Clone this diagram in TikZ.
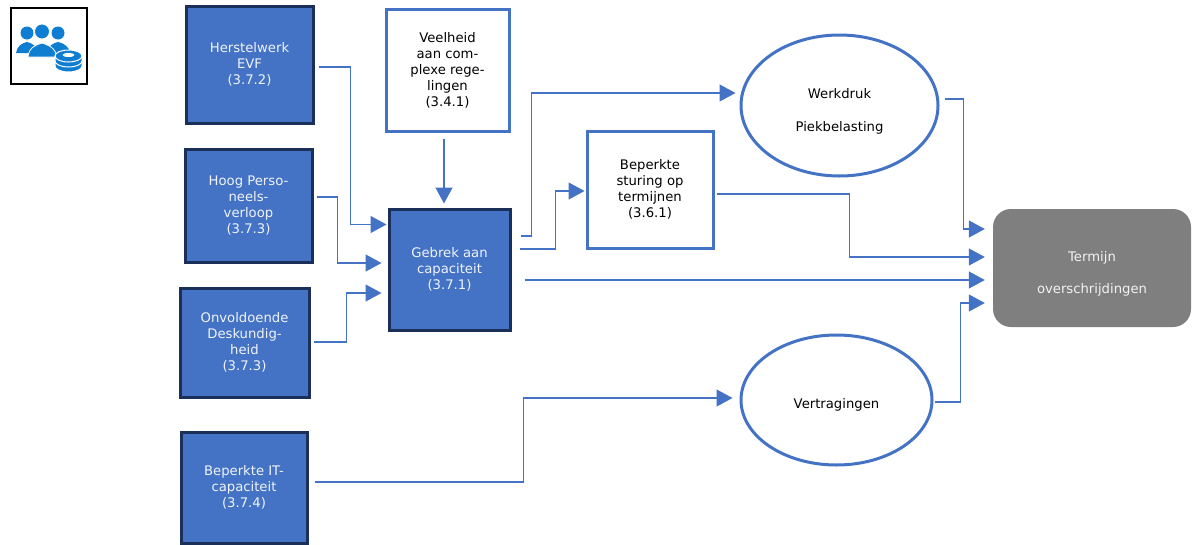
\documentclass[tikz,border=0pt]{standalone}
\usepackage{fontspec}
\setmainfont{DejaVu Sans}
\usetikzlibrary{arrows.meta,shapes.geometric}
\definecolor{kantblauw}{HTML}{4472C4}
\definecolor{donkerblauw}{HTML}{1A3058}
\definecolor{grijsvak}{HTML}{7F7F7F}
\definecolor{iconblauw}{HTML}{0F7DD2}
\tikzset{
	tekst/.style={align=center, inner sep=0pt, font=\fontsize{13.2}{16}\selectfont},
	oorzaak/.style={tekst, draw=donkerblauw, line width=3pt, fill=kantblauw, text=white!92!kantblauw},
	wit/.style={tekst, draw=kantblauw, line width=3pt, fill=white},
	gevolg/.style={tekst, ellipse, draw=kantblauw, line width=3pt, fill=white},
	pijl/.style={draw=kantblauw, line width=1.3pt, -{Triangle[length=16pt,width=17pt,fill=kantblauw]}},
	persoon/.style={fill=iconblauw, draw=none},
	munt/.style={fill=iconblauw, draw=white, line width=1pt}
}
\begin{document}
\begin{tikzpicture}[x=1pt,y=-1pt]
	\useasboundingbox (0,0) rectangle (1194,544);
	\node[draw=black, line width=2pt, minimum width=76pt, minimum height=76pt] (icoon) at (48.5,46) {}; %icoon
	\fill[persoon] (27,33) circle (6.5pt);
	\fill[persoon] (16,53) .. controls (17,46) and (22,43) .. (27,42) .. controls (32,43) and (37,46) .. (38,53) -- cycle;
	\fill[persoon] (58,33) circle (6.5pt);
	\fill[persoon] (47,53) .. controls (48,46) and (53,43) .. (58,42) .. controls (63,43) and (69,46) .. (70,53) -- cycle;
	\draw[white, line width=0.8pt, fill=iconblauw] (42,31.5) circle (7.5pt);
	\draw[white, line width=0.8pt, fill=iconblauw] (28,57) .. controls (29,47) and (36,45) .. (42,43) .. controls (48,45) and (55,47) .. (57,57) -- cycle;
	\draw[munt] (55,66) arc (180:360:13.5pt and 6pt) -- (82,60) -- (55,60) -- cycle;
	\draw[munt] (55,61) arc (180:360:13.5pt and 6pt) -- (82,56) -- (55,56) -- cycle;
	\draw[munt] (68.5,56) ellipse (13.5pt and 6pt);
	\fill[white] (68.5,55) ellipse (6pt and 2pt);

	\node[oorzaak, minimum width=127pt, minimum height=117pt] (herstelwerk) at (249.5,64.5) {Herstelwerk\\EVF\\(3.7.2)};
	\node[oorzaak, minimum width=127pt, minimum height=113pt] (verloop) at (248.5,205.5) {Hoog Perso-\\neels-\\verloop\\(3.7.3)};
	\node[oorzaak, minimum width=129pt, minimum height=109pt] (deskundig) at (244.5,342.5) {Onvoldoende\\Deskundig-\\heid\\(3.7.3)};
	\node[oorzaak, minimum width=126pt, minimum height=111pt] (it) at (244,487.5) {Beperkte IT-\\capaciteit\\(3.7.4)};
	\node[oorzaak, minimum width=121pt, minimum height=121pt] (capaciteit) at (449.5,269.5) {Gebrek aan\\capaciteit\\(3.7.1)};
	\node[wit, minimum width=123pt, minimum height=122pt] (regels) at (447.5,70) {Veelheid\\aan com-\\plexe rege-\\lingen\\(3.4.1)};
	\node[wit, minimum width=126pt, minimum height=117pt] (sturing) at (650,189.5) {Beperkte\\sturing op\\termijnen\\(3.6.1)};
	\node[gevolg, minimum width=197pt, minimum height=141pt] (werkdruk) at (839.5,105.5) {\rule{0pt}{21pt}Werkdruk\\[17pt]Piekbelasting};
	\node[gevolg, minimum width=191pt, minimum height=130pt] (vertraging) at (836.5,400) {\rule{0pt}{19pt}Vertragingen};
	\node[tekst, rounded corners=18pt, fill=grijsvak, text=white!90!grijsvak, minimum width=198pt, minimum height=118pt] (termijn) at (1092,268) {\rule{0pt}{21pt}Termijn\\[16pt]overschrijdingen};

	\draw[pijl] ([shift={(4,2.5)}]herstelwerk.east) -- ++(32,0) |- ([shift={(-1,-45)}]capaciteit.west);
	\draw[pijl] ([shift={(3,-8.5)}]verloop.east) -- ++(21,0) |- ([shift={(-6,-6.5)}]capaciteit.west);
	\draw[pijl] ([shift={(3,-0.5)}]deskundig.east) -- ++(33,0) |- ([shift={(-6,23.5)}]capaciteit.west);
	\draw[pijl] ([shift={(-3.5,6)}]regels.south) -- ([shift={(-5.5,-4)}]capaciteit.north);
	\draw[pijl] ([shift={(9,-33.5)}]capaciteit.east) -- ++(11,0) |- ([shift={(-4,-12.5)}]werkdruk.west); %werkdruk
	\draw[pijl] ([shift={(8,-20.5)}]capaciteit.east) -- ++(36,0) |- ([shift={(-1,1.5)}]sturing.west); %sturing
	\draw[pijl] ([shift={(13,10.5)}]capaciteit.east) -- ([shift={(-8,12)}]termijn.west);
	\draw[pijl] ([shift={(2,4.5)}]sturing.east) -- ++(133,0) |- ([shift={(-8,-11)}]termijn.west);
	\draw[pijl] ([shift={(5,-6.5)}]werkdruk.east) -- ++(19,0) |- ([shift={(-8,-39)}]termijn.west);
	\draw[pijl] ([shift={(1,2)}]vertraging.east) -- ++(26,0) |- ([shift={(-8,35)}]termijn.west);
	\draw[pijl] ([shift={(6,-5.5)}]it.east) -- ++(209,0) |- ([shift={(-7,-2)}]vertraging.west);
\end{tikzpicture}
\end{document}
